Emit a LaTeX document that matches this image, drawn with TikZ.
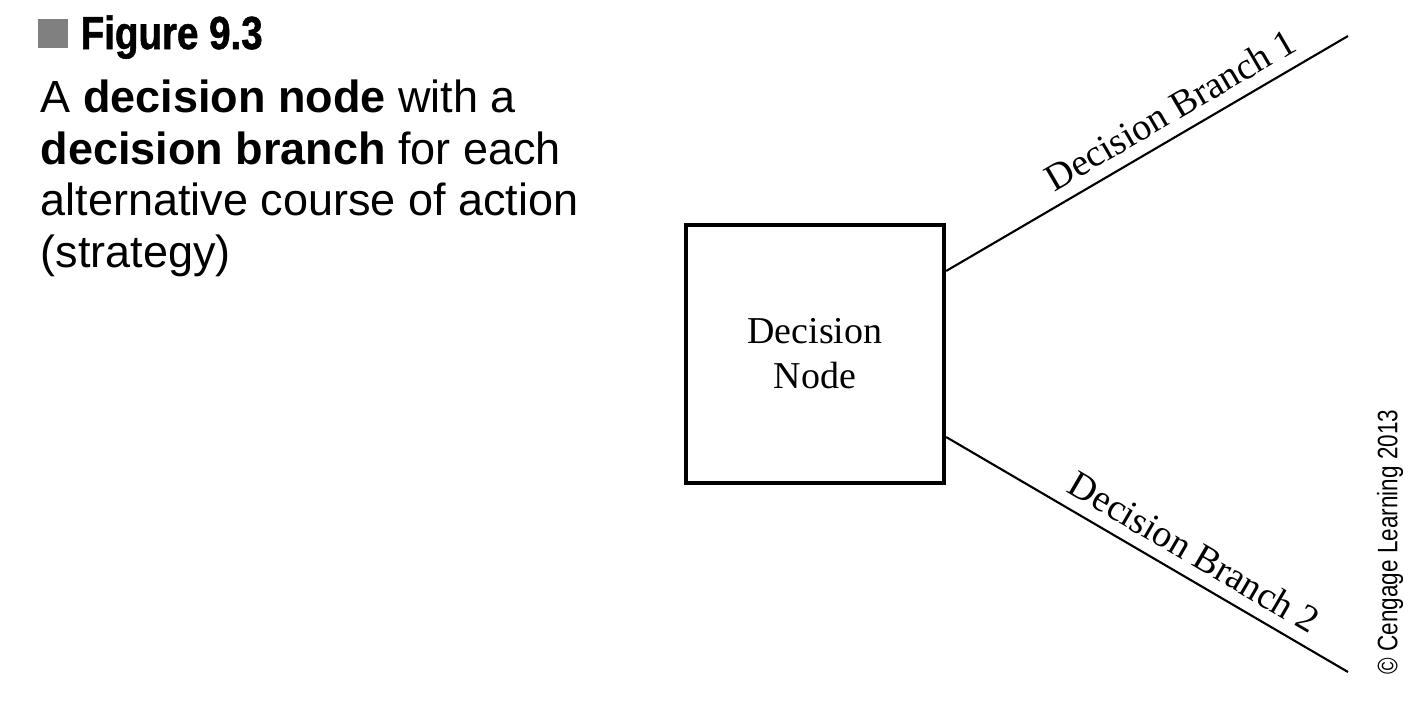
\documentclass[tikz,border=0pt]{standalone}
\usepackage{fontspec}
\setmainfont{Liberation Serif}
\setsansfont{Liberation Sans}
\newfontfamily\condfont[FakeStretch=0.83, FakeBold=1.2]{Liberation Sans Bold}
\newfontfamily\narrowfont[FakeStretch=0.8]{Liberation Sans}
\usetikzlibrary{positioning}
\definecolor{MarkGray}{RGB}{128,128,128}

\begin{document}
\begin{tikzpicture}[x=0.01cm, y=-0.01cm,
    dbox/.style={draw, line width=1.2pt, minimum size=2.58cm, align=center,
                 font=\fontsize{10.8}{12.8}\selectfont},
    branch/.style={line width=0.6pt},
    blabel/.style={sloped, above, font=\fontsize{10.8}{12.8}\selectfont}]
    % Page frame (1426 x 702 px)
    \useasboundingbox (0,0) rectangle (1426,702);

    % Figure heading
    \fill[MarkGray] (38,19) rectangle (68,48);
    \node[anchor=base west, inner sep=0, font=\condfont\fontsize{13.2}{15}\selectfont]
        (title) at (80,49) {Figure 9.3};

    % Caption (base anchor sits on the last line)
    \node[anchor=base west, inner sep=0, align=left,
          font=\sffamily\fontsize{12.8}{14.6}\selectfont] (caption) at (40,267)
        {A \textbf{decision node} with a\\
         \textbf{decision branch} for each\\
         alternative course of action\\
         (strategy)};

    % Decision node and its two branches
    \node[dbox] (dnode) at (815,354) {Decision\\Node};
    \coordinate (b1start) at ([yshift=0.83cm]dnode.east);
    \coordinate (b2start) at ([yshift=-0.83cm]dnode.east);
    \coordinate (b1end) at (1348,36);
    \coordinate (b2end) at (1348,672);

    \draw[branch] (b1start) -- node[blabel, pos=0.59] {Decision Branch 1} (b1end);
    \draw[branch] (b2start) -- node[blabel, pos=0.585] {Decision Branch 2} (b2end);

    % Credit line
    \node[rotate=90, inner sep=0, font=\narrowfont\fontsize{8}{9}\selectfont]
        (credit) at (1390,542) {© Cengage Learning 2013};
\end{tikzpicture}
\end{document}
